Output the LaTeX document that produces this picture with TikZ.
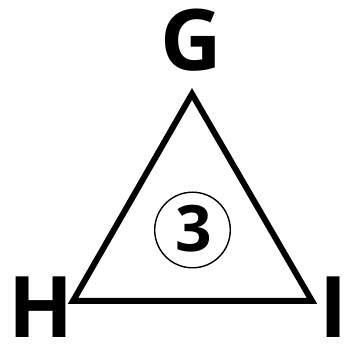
\documentclass[tikz,border=0pt]{standalone}
\usepackage{fontspec}
\setmainfont{Open Sans}[BoldFont={Open Sans Bold}]
\tikzset{
  vlabel/.style={anchor=base, inner sep=0pt, font=\fontsize{85}{85}\selectfont\bfseries},
  edge/.style={line width=6pt, line join=miter},
  ring/.style={circle, draw, line width=1.4pt, minimum size=75.6pt, inner sep=0pt}
}
\begin{document}
\begin{tikzpicture}[x=1pt,y=1pt]
\useasboundingbox (0,0) rectangle (346,345);
\coordinate (g) at (192,251);
\coordinate (h) at (73,44);
\coordinate (i) at (312,44);
\draw[edge] (g) -- (h) -- (i) -- cycle;
\node[vlabel] (G) at (191.5,274) {G};
\node[vlabel] (H) at (41,7) {H};
\node[vlabel] (I) at (334,7) {I};
\node[ring] (c) at (192.5,115) {};
\node[anchor=base, inner sep=0pt, font=\fontsize{64}{64}\selectfont\bfseries] (three) at (194,93.5) {3};
\end{tikzpicture}
\end{document}
